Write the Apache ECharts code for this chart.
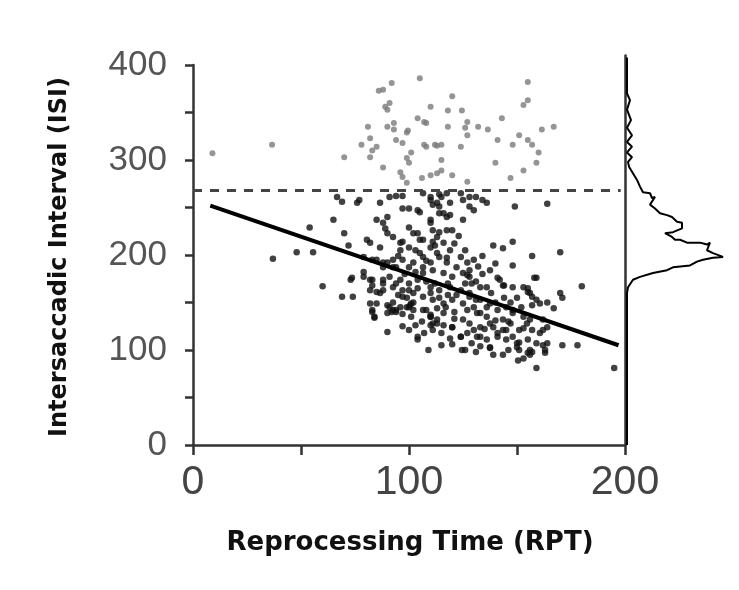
<!DOCTYPE html>
<html><head><meta charset="utf-8">
<script src="https://cdn.jsdelivr.net/npm/echarts@6/dist/echarts.min.js"></script>
<style>html,body{margin:0;padding:0;background:#fff}#c{width:739px;height:590px}</style>
</head><body><div id="c"></div>
<script>
// ---- data (RPT, ISI) ----
var xTicks = [0, 100, 200];
var yTicks = [0, 100, 200, 300, 400];
var thresholdISI = 268;
var fitLine = [[8, 252], [197, 105]];
var upperPoints = [
[9,307],[36.6,316],[70,303],[86,373],[92,381],[105,386],[91,360],[90,353],[110,356],[104,344],[108,339],[81,335],[90,335],[93,339],[93,332],[99.5,331],[82,323],[78,316],[85,314],[83,310],[82,303],[97,318],[94,321],[101,308],[99,302],[100,297],[108,314],[113,315],[88,292],[96,287],[97,282],[99,276],[106,281],[110,284],[113,286],
[155,382],[120,367],[118,352],[124.5,352],[155,363],[153,358],[107,340],[118,335],[127,340],[132,335],[136.5,332],[126,334],[127,326],[143,344],[161.5,332],[167,335],[151,326],[155,321],[157,316],[160,308],[141,321],[148,316],[107,316],[112,316],[115,316],[124,314],[99,329],[115,300],[140,297],[159,297],[115,289],[120,284],[127,277],[147,281],[153,289],[88,374],[89,356]
];
var lowerPoints = [
[66.7,261],[69,256],[76,255],[77,258],[86.6,255],[91,261],[97,249],[100,249],[105,245],[110,261],[113,255],
[65,237],[54,229],[70,223],[85,237],[80.5,216],[82,213],[90,223],[92.6,219],[96,213],[100,229],[104,223],
[48,203],[55.6,203],[37,196],[72,210],[79,182],[82,174],[83,168],[85,161],[73.6,176],[60,167],[69,156],[74,156],
[88,174],[91,177],[94,170],[85,149],[90,147],[92.6,150],[97,156],[100,163],[104,174],[106.5,181],
[85,195],[90,192],[94,187],[97,195],[100,187],[99,145],[102,150],[106.5,142],[110,160],[112,170],
[106.5,198],[110,192],[113,202],[106.5,216],[110,208],[113,219],[110,237],
[90,119],[97,125],[100,121],[104,114],[104,111],[109,100],[83,140],[84,135],[91,145],[94,140],[101,149],[110,135],[111,128],
[126,100],[137.5,102],[139,95],[150,103],[150.5,89],[155,97],[157,98],[159,81],[162,105],[163,97],[171,105],[178,105],[195,81],[167,144],
[90,139],[92.6,142],[100.5,147],[102,142],[110,137],[113,132],[116,126],[110,126],[120,124],[125,132],[130,121],[127,118],[124,114],[133,114],[136,111],[141,118],[137.5,128],[143.5,132],[145,121],[148,114],[151,108],[153,123],[154.6,128],[157,121],[160.6,118],[162,132],[164,124],[133,139],[130,145],[141,142],[148,142],[157,147],
[149,251],[164,254],[139,210],[143.5,207],[148,214],[134,199],[157,199],[170,203],[137.5,184],[140,191],[148,189],[158,176],[133,166],[136,166],[141,176],[144,168],[148,166],[153,166],[155,161],[157,156],[170,160],[171,155],[180,167],[164,150],
[94,262],[97,262],[106.5,265],[110,258],[114,264],[115,261],[117.5,265],[124,265],[125,258],[128,261],[131,261],[128,251],[130,247],[134,258],[136,255],[104,247],[111,253],[119,255],[114,244],[117.5,240],[110,234],[111,226],[114,224],[117.5,226],[120,226],[125,237],[90,240],[88,234],[102,223],[105,216],
[86.6,208],[96,205],[100,208],[105,202],[114,198],[119,205],[117.5,192],[122,187],[125,181],[128,177],[120,177],[116,181],[111,184],[106.5,187],[102,192],[92.6,195],[88,187],[96,174],[100,170],[110,166],[114,163],[119,166],[124,163],[128,160],[131,153],[125,149],[120,153],[116,149],[111,153],[106.5,156],[102,160],[97,163],[92.6,166],[88,163],[96,145],[136,145],
[114,251],[116,244],[119,242],[89,228],[97,214],[111,214],[116,213],[117.5,197],[124,198],[127,192],[128,184],[79,198],[83,195],[88,192],[92.6,187],
[127,179],[142,174],[143.5,168],[155,165],[156,160],[159,153],[160.6,149],[159,176],[143.5,95],[156,100],[163,100],
[128,156],[133,153],[137.5,149],[127,142],[131.5,139],[136,135],[145,145],[148,139],[153,135],[156,132],[128,128],[133,124],[139,124],[143.5,121],[147,128],[151,121],[162,121],[131.5,114],[141,114],[145,111],[150,107],[155,111],[159,107],[164,107],[137.5,103],[151,100],[156,95],
[73,174],[82,149],[83,142],[84,134],[92,140],[94,142],[79,177],[83,174],[88,170],[82,163],[86.6,160],[100,145],[108,142],[110,135],[113,128],[111,121],[116,139],[120,124],[124,114],[124.5,100],
[118,170],[122,158],[126,170],[131,172],[134,180],[138,160],[140,150],[144,155],[147,150],[150,155],[152,145],[146,130],[140,131],[135,122],[121,140],[117,145],[121,133],[108,172],[103,182],[98,180],[95,199],[103,205],[108,194],[112,210],[121,212],[123,220],[126,205],[130,195],[132,188],[129,170],[104,165],[99,155],[95,158],[114,155],[118,158],[113,144],[106,130],[101,135],[97,138],[103,126],[107,118],[115,118],[119,112],[129,107],[133,104],[146,100],[153,91],[131,98],[120,106],[115,105]
];
// ISI distribution (density, ISI)
var histDensity = [0,0,3,0,4,0,5,0,5,0,5,1,2,10,13,16,23,25,28,23,28,33,40,45,50,55,55,46,38,45,48,53,60,73,80,83,80,86,96,86,76,70,63,46,40,26,13,6,1,0,0];
var histISI =     [408,370,363,353,342,334,326,319,314,308,303,298,293,279,272,266,265,260,261,253,249,244,242,240,235,234,228,224,223,219,216,216,213,213,211,213,205,202,198,197,195,193,189,187,184,181,177,174,166,160,0];

var histData = histDensity.map(function (d, i) { return [d + 2, histISI[i]]; });

var chart = echarts.init(document.getElementById('c'), null, {renderer: 'canvas'});
var axisCol = '#333';
chart.setOption({
  animation: false,
  backgroundColor: '#fff',
  grid: [
    {left: 193, top: 65, width: 432, height: 380},
    {left: 625, top: 55.5, width: 100, height: 389.5}
  ],
  xAxis: [{
    type: 'value', gridIndex: 0, min: 0, max: 200, interval: 50,
    axisLine: {show: true, onZero: false, lineStyle: {color: axisCol, width: 2.5}},
    axisTick: {show: true, length: 10, lineStyle: {color: axisCol, width: 2.5}},
    axisLabel: {margin: 17, fontSize: 41, fontFamily: 'Liberation Sans', color: '#444',
      formatter: function (v) { return xTicks.indexOf(v) >= 0 ? String(v) : ''; }},
    splitLine: {show: false}
  }, {
    type: 'value', gridIndex: 1, min: 0, max: 100,
    axisLine: {show: false}, axisTick: {show: false}, axisLabel: {show: false}, splitLine: {show: false}
  }],
  yAxis: [{
    type: 'value', gridIndex: 0, min: 0, max: 400, interval: 50,
    axisLine: {show: true, onZero: false, lineStyle: {color: axisCol, width: 2.5}},
    axisTick: {show: true, length: 8, lineStyle: {color: axisCol, width: 2.5}},
    axisLabel: {margin: 26, fontSize: 35, fontFamily: 'Liberation Sans', color: '#555',
      formatter: function (v) { return yTicks.indexOf(v) >= 0 ? String(v) : ''; }},
    splitLine: {show: false}
  }, {
    type: 'value', gridIndex: 1, min: 0, max: 410,
    axisLine: {show: true, onZero: false, lineStyle: {color: axisCol, width: 2.5}},
    axisTick: {show: false}, axisLabel: {show: false}, splitLine: {show: false}
  }],
  graphic: [
    {type: 'text', x: 60, y: 257, rotation: Math.PI / 2,
     style: {text: 'Intersaccadic Interval (ISI)', font: 'bold 24px "DejaVu Sans"', fill: '#111',
             textAlign: 'center', textVerticalAlign: 'middle'}},
    {type: 'text', x: 410, y: 543,
     style: {text: 'Reprocessing Time (RPT)', font: 'bold 26px "DejaVu Sans"', fill: '#111',
             textAlign: 'center', textVerticalAlign: 'middle'}}
  ],
  series: [
    {type: 'scatter', xAxisIndex: 0, yAxisIndex: 0, data: upperPoints, symbolSize: 6,
     itemStyle: {color: '#7a7a7a'}, z: 2},
    {type: 'scatter', xAxisIndex: 0, yAxisIndex: 0, data: lowerPoints, symbolSize: 6.5,
     itemStyle: {color: '#111'}, z: 2},
    {type: 'line', xAxisIndex: 0, yAxisIndex: 0, data: [[0, thresholdISI], [198, thresholdISI]],
     symbol: 'none', lineStyle: {color: '#444', width: 3, type: [9, 8]}, z: 3},
    {type: 'line', xAxisIndex: 0, yAxisIndex: 0, data: fitLine,
     symbol: 'none', lineStyle: {color: '#000', width: 4}, z: 4},
    {type: 'line', xAxisIndex: 1, yAxisIndex: 1, data: histData,
     symbol: 'none', lineStyle: {color: '#000', width: 2}, z: 4}
  ]
});
</script></body></html>
